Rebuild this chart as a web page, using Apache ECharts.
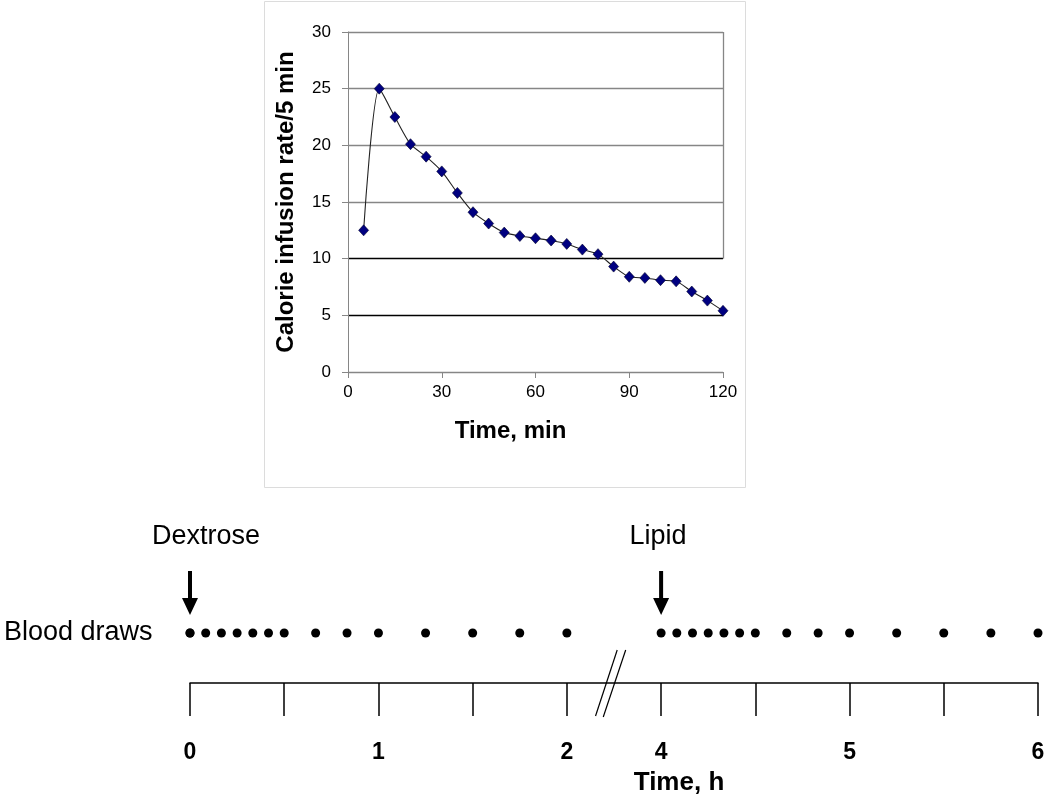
<!DOCTYPE html>
<html><head><meta charset="utf-8">
<script src="https://cdn.jsdelivr.net/npm/echarts@6/dist/echarts.min.js"></script>
<style>html,body{margin:0;padding:0;background:#fff}#c{width:1050px;height:798px}</style>
</head><body><div id="c"></div>
<script>
// ---- Top chart data ----
const timeMin = [5,10,15,20,25,30,35,40,45,50,55,60,65,70,75,80,85,90,95,100,105,110,115,120];
const calorieRate = [12.5,25.0,22.5,20.1,19.0,17.7,15.8,14.1,13.1,12.3,12.0,11.8,11.6,11.3,10.8,10.4,9.3,8.4,8.3,8.1,8.0,7.1,6.3,5.4];
// ---- Bottom timeline data ----
const sampleMinutes = [0,5,10,15,20,25,30,40,50,60,75,90,105,120];
const infusions = ['Dextrose','Lipid'];
const infusionStartH = [0,4];
const hourTicks = [0,1,2,4,5,6];
const breakFromH = 2, breakToH = 4, breakShown = 0.5;

const FONT = 'Arial, "Liberation Sans", Helvetica, sans-serif';
function toAxis(h){ return h <= breakFromH ? h : h - (breakToH - breakFromH) + breakShown; }

const topPoints = timeMin.map((t,i)=>[t, calorieRate[i]]);
const dots = [];
infusionStartH.forEach(s => sampleMinutes.forEach(m => dots.push([toAxis(s + m/60), 50])));
const arrowPts = infusionStartH.map(s => [toAxis(s), 90]);
const labelOffsets = [[16,0],[-3,0]];
const labelPts = infusionStartH.map((s,i)=>({value:[toAxis(s),146], name:infusions[i],
  label:{offset:labelOffsets[i]}}));
const bc = toAxis(breakFromH) + 0.23;
const slash1 = [[bc-0.078,-33],[bc+0.037,33]];
const slash2 = [[bc-0.037,-34],[bc+0.082,33]];

const gridColors = ['#868686','#000','#000','#868686','#868686','#868686','#868686'];

const chart = echarts.init(document.getElementById('c'), null, {renderer:'canvas'});
chart.setOption({
  animation:false,
  backgroundColor:'#fff',
  graphic:[{type:'rect', shape:{x:264.5,y:1.5,width:481,height:486},
    style:{fill:'none', stroke:'#dcdcdc', lineWidth:1}, z:-1}],
  grid:[
    {left:348, right:327, top:32, bottom:426, outerBoundsMode:'none', containLabel:false},
    {left:190, right:12, top:520, bottom:75, outerBoundsMode:'none', containLabel:false}
  ],
  xAxis:[
    {gridIndex:0, type:'value', min:0, max:120, interval:30,
     name:'Time, min', nameLocation:'middle', nameGap:47, nameMoveOverlap:false,
     nameTextStyle:{fontFamily:FONT, fontSize:24, fontWeight:'bold', color:'#000', padding:[0,50,0,0]},
     axisLine:{onZero:false, lineStyle:{color:'#868686', width:1}},
     axisTick:{show:true, length:6, lineStyle:{color:'#868686'}},
     axisLabel:{fontFamily:FONT, fontSize:17, color:'#000', margin:12},
     splitLine:{show:false}},
    {gridIndex:1, type:'value', min:0, max:toAxis(6), interval:0.5,
     name:'Time, h', nameLocation:'middle', nameGap:47, nameMoveOverlap:false,
     nameTextStyle:{fontFamily:FONT, fontSize:26, fontWeight:'bold', color:'#000', padding:[0,0,0,130]},
     axisLine:{onZero:true, lineStyle:{color:'#000', width:1.5}},
     axisTick:{show:true, length:33, lineStyle:{color:'#000', width:1.5}},
     axisLabel:{fontFamily:FONT, fontSize:23, fontWeight:'bold', color:'#000', margin:18,
       showMinLabel:true, showMaxLabel:true,
       formatter:function(v){
         for (const h of hourTicks){ if (Math.abs(toAxis(h)-v) < 1e-6) return String(h); }
         return '';
       }},
     splitLine:{show:false}}
  ],
  yAxis:[
    {gridIndex:0, type:'value', min:0, max:30, interval:5,
     name:'Calorie infusion rate/5 min', nameLocation:'middle', nameGap:50, nameMoveOverlap:false,
     nameTextStyle:{fontFamily:FONT, fontSize:24, fontWeight:'bold', color:'#000'},
     axisLine:{show:true, lineStyle:{color:'#868686', width:1}},
     axisTick:{show:true, length:6, lineStyle:{color:'#868686'}},
     axisLabel:{fontFamily:FONT, fontSize:17, color:'#000', margin:17},
     splitLine:{show:true, lineStyle:{color:gridColors, width:1.3}}},
    {gridIndex:1, type:'value', min:-40, max:163, show:false}
  ],
  series:[
    {type:'line', xAxisIndex:0, yAxisIndex:0, data:topPoints, smooth:0.25,
     symbol:'diamond', symbolSize:[10,11], showSymbol:true,
     lineStyle:{color:'#222', width:1.1},
     itemStyle:{color:'#000080', borderColor:'#00002a', borderWidth:0.6},
     emphasis:{disabled:true}, z:5,
     markLine:{silent:true, symbol:['none','none'], label:{show:false},
       lineStyle:{color:'#868686', width:1.3, type:'solid'},
       data:[[{coord:[120,10]},{coord:[120,30]}]]}},
    {type:'scatter', xAxisIndex:1, yAxisIndex:1, data:dots, symbol:'circle', symbolSize:9,
     itemStyle:{color:'#000', opacity:1}, emphasis:{disabled:true},
     label:{show:false}},
    {type:'scatter', xAxisIndex:1, yAxisIndex:1,
     data:[{value:dots[0], label:{show:true, position:'left', distance:33, formatter:'Blood draws',
       fontFamily:FONT, fontSize:27, color:'#000', opacity:1}}],
     symbol:'circle', symbolSize:9, itemStyle:{color:'#000', opacity:1}, emphasis:{disabled:true}},
    {type:'scatter', xAxisIndex:1, yAxisIndex:1, data:arrowPts,
     symbol:'path://M6,0 L10,0 L10,27 L16,27 L8,44 L0,27 L6,27 Z', symbolSize:[16,44],
     symbolKeepAspect:false, itemStyle:{color:'#000', opacity:1}, emphasis:{disabled:true}},
    {type:'scatter', xAxisIndex:1, yAxisIndex:1, data:labelPts, symbolSize:1,
     itemStyle:{color:'rgba(0,0,0,0)', opacity:1}, emphasis:{disabled:true},
     label:{show:true, position:'inside', formatter:'{b}', fontFamily:FONT, fontSize:27, color:'#000', opacity:1}},
    {type:'line', xAxisIndex:1, yAxisIndex:1, data:slash1, symbol:'none', clip:false,
     lineStyle:{color:'#000', width:1.2}, emphasis:{disabled:true}},
    {type:'line', xAxisIndex:1, yAxisIndex:1, data:slash2, symbol:'none', clip:false,
     lineStyle:{color:'#000', width:1.2}, emphasis:{disabled:true}}
  ]
});
</script></body></html>
